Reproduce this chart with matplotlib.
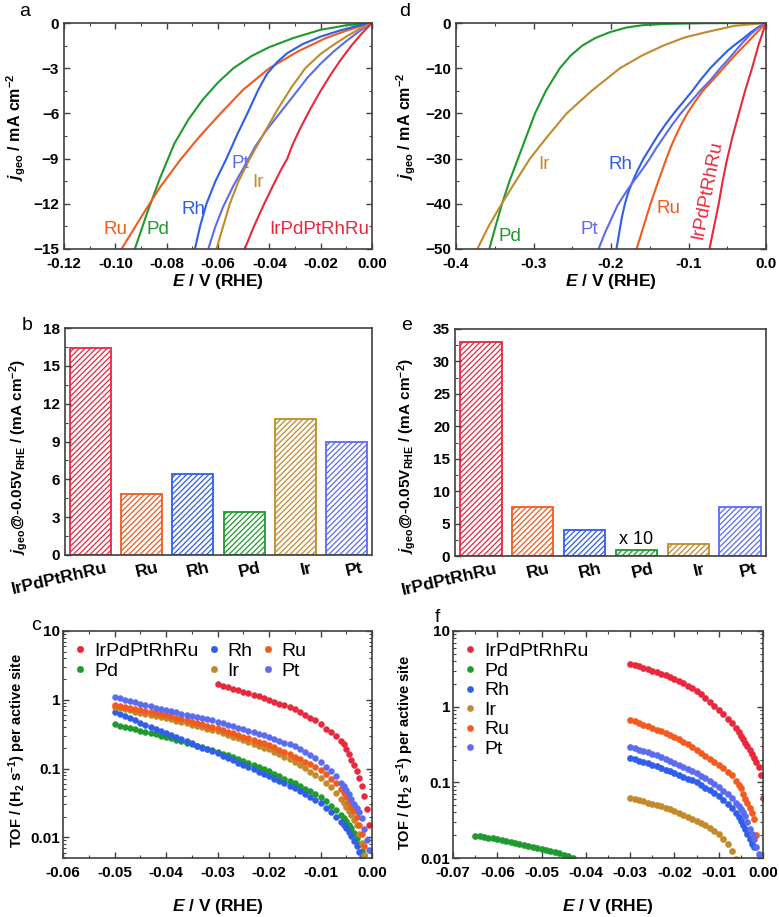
import numpy as np
import matplotlib
matplotlib.use('Agg')
import matplotlib.pyplot as plt
from matplotlib.ticker import MultipleLocator, FixedLocator, NullFormatter, LogLocator
from matplotlib.transforms import ScaledTranslation

plt.rcParams['font.family'] = ['Liberation Sans', 'DejaVu Sans']
plt.rcParams['mathtext.fontset'] = 'custom'
plt.rcParams['mathtext.rm'] = 'Liberation Sans:bold'
plt.rcParams['mathtext.it'] = 'Liberation Sans:italic:bold'
plt.rcParams['mathtext.bf'] = 'Liberation Sans:bold'
plt.rcParams['hatch.linewidth'] = 0.9

# colours
c_hea = '#e8283c'
c_ru = '#f25a1e'
c_rh = '#2f5ee8'
c_pd = '#1f9a2e'
c_ir = '#c28a2c'
c_pt = '#5b6cf0'
spine_col = '#404040'

# ---------------- panel a : LSV, small range ----------------
a_hea_E = [0, -0.004, -0.008, -0.012, -0.016, -0.020, -0.024, -0.028, -0.031, -0.033, -0.035, -0.038, -0.042, -0.046, -0.0496]
a_hea_j = [0, -0.7, -1.5, -2.4, -3.4, -4.5, -5.7, -7.0, -8.1, -9.0, -9.6, -10.6, -12.0, -13.5, -15]
a_ir_E = [0, -0.005, -0.010, -0.015, -0.020, -0.026, -0.0315, -0.037, -0.042, -0.0476, -0.052, -0.0554, -0.058, -0.0606]
a_ir_j = [0, -0.4, -0.9, -1.45, -2.05, -3.0, -4.3, -5.8, -7.3, -9.0, -10.5, -12.0, -13.5, -15]
a_pt_E = [0, -0.005, -0.010, -0.015, -0.020, -0.025, -0.030, -0.036, -0.0415, -0.0455, -0.049, -0.054, -0.058, -0.061, -0.0638]
a_pt_j = [0, -0.55, -1.2, -1.9, -2.7, -3.6, -4.7, -6.0, -7.2, -8.2, -9.3, -10.8, -12.2, -13.5, -15]
a_rh_E = [0, -0.006, -0.0125, -0.020, -0.027, -0.033, -0.037, -0.041, -0.0445, -0.048, -0.0525, -0.0567, -0.061, -0.0645, -0.067, -0.069]
a_rh_j = [0, -0.2, -0.5, -0.9, -1.4, -2.0, -2.6, -3.4, -4.5, -5.8, -7.4, -9.0, -10.5, -12.0, -13.5, -15]
a_ru_E = [0, -0.009, -0.018, -0.029, -0.040, -0.050, -0.059, -0.067, -0.0743, -0.0826, -0.090, -0.0976]
a_ru_j = [0, -0.45, -1.0, -1.9, -3.0, -4.4, -6.0, -7.5, -9.0, -10.9, -12.9, -15]
a_pd_E = [0, -0.010, -0.020, -0.0307, -0.040, -0.047, -0.054, -0.060, -0.066, -0.0715, -0.077, -0.0826, -0.0876, -0.0924]
a_pd_j = [0, -0.15, -0.45, -1.0, -1.6, -2.2, -3.0, -3.95, -5.1, -6.4, -8.0, -10.3, -12.6, -15]

# ---------------- panel d : LSV, large range ----------------
d_pd_E = [0, -0.08, -0.13, -0.16, -0.18, -0.201, -0.22, -0.237, -0.252, -0.266, -0.284, -0.298, -0.309, -0.32,
          -0.331, -0.3406, -0.349, -0.357]
d_pd_j = [0, -0.05, -0.2, -0.5, -1.0, -2.0, -3.3, -5.0, -7.2, -10, -15, -20, -25, -30, -35, -40, -45, -50]
d_ir_E = [0, -0.04, -0.0765, -0.105, -0.1325, -0.16, -0.1884, -0.225, -0.2572, -0.2815, -0.3045, -0.323, -0.341, -0.358, -0.3725]
d_ir_j = [0, -0.6, -2.0, -3.2, -5.0, -7.2, -10, -15, -20, -25, -30, -35, -40, -45, -50]
d_rh_E = [0, -0.01, -0.02, -0.03, -0.04, -0.05, -0.061, -0.072, -0.084, -0.095, -0.107, -0.119, -0.13, -0.14,
          -0.149, -0.158, -0.166, -0.172, -0.178, -0.182, -0.186, -0.189, -0.193]
d_rh_j = [0, -0.9, -2.1, -3.5, -4.8, -6.2, -8.1, -10, -12.5, -15, -17.5, -20, -22.5, -25,
          -27.5, -30, -32.7, -35, -37.6, -40, -43, -46, -50]
d_pt_E = [0, -0.01, -0.02, -0.03, -0.04, -0.05, -0.059, -0.072, -0.085, -0.098, -0.11, -0.121, -0.131, -0.141,
          -0.150, -0.158, -0.165, -0.172, -0.179, -0.186, -0.192, -0.200, -0.208, -0.216]
d_pt_j = [0, -1.0, -2.5, -4.3, -6.3, -8.3, -10, -12.7, -15, -17.6, -20, -22.5, -25, -27.5,
          -30, -32, -33.7, -35.3, -37, -38.8, -40.5, -43.5, -46.5, -50]
d_ru_E = [0, -0.014, -0.028, -0.042, -0.055, -0.068, -0.0815, -0.092, -0.1015, -0.1095, -0.1165, -0.123, -0.1285,
          -0.139, -0.149, -0.158, -0.167]
d_ru_j = [0, -2.5, -5.0, -7.5, -10, -12.5, -15, -17.5, -20, -22.5, -25, -27.5, -30, -35, -40, -45, -50]
d_hea_E = [0, -0.009, -0.018, -0.027, -0.035, -0.043, -0.050, -0.056, -0.061, -0.067, -0.073]
d_hea_j = [0, -4.5, -10, -15, -20, -25, -30, -35, -40, -45, -50]

# ---------------- panels b, e : bars ----------------
bar_names = ['IrPdPtRhRu', 'Ru', 'Rh', 'Pd', 'Ir', 'Pt']
bar_cols = [c_hea, c_ru, c_rh, c_pd, c_ir, c_pt]
b_vals = [16.4, 4.85, 6.45, 3.4, 10.8, 9.0]
e_vals = [33.0, 7.6, 4.0, 1.0, 1.8, 7.6]

# ---------------- panels c, f : TOF ----------------
# potential grid: 1 mV steps, then 0.5 mV steps close to 0 V
grid_c = np.round(np.concatenate([np.arange(-0.050, -0.0055, 0.001), np.arange(-0.0055, 0.00001, 0.0005)]), 4)
grid_f = np.round(np.concatenate([np.arange(-0.030, -0.0055, 0.001), np.arange(-0.0055, 0.00001, 0.0005)]), 4)
grid_f_pd = np.round(np.arange(-0.065, -0.0425, 0.001), 4)

c_hea_tof = [1.67, 1.59, 1.52, 1.44, 1.38, 1.31, 1.25, 1.19, 1.13, 1.06, 0.99,
             0.93, 0.88, 0.83, 0.78, 0.73, 0.67, 0.61, 0.55, 0.50, 0.44,
             0.38, 0.335, 0.295, 0.255,
             0.225, 0.19, 0.165, 0.135, 0.112, 0.093, 0.073, 0.056, 0.040, 0.026, 0.015]
c_pt_tof = [1.10, 1.05, 1.00, 0.96, 0.92, 0.88, 0.84, 0.81, 0.77, 0.74, 0.71,
            0.68, 0.655, 0.63, 0.60, 0.58, 0.56, 0.54, 0.52, 0.50, 0.48,
            0.457, 0.435, 0.413, 0.393, 0.374, 0.356, 0.338, 0.322, 0.305, 0.29,
            0.272, 0.255, 0.239, 0.224, 0.21, 0.19, 0.172, 0.155, 0.14, 0.126,
            0.107, 0.091, 0.077, 0.062,
            0.055, 0.049, 0.042, 0.036, 0.031, 0.027, 0.023, 0.019, 0.013, 0.009, 0.0066]
c_ru_tof = [0.84, 0.81, 0.78, 0.76, 0.73, 0.71, 0.68, 0.66, 0.64, 0.62, 0.60,
            0.574, 0.549, 0.525, 0.502, 0.48, 0.46, 0.44, 0.42, 0.40, 0.385,
            0.364, 0.344, 0.325, 0.307, 0.29, 0.274, 0.259, 0.245, 0.232, 0.22,
            0.203, 0.188, 0.174, 0.161, 0.149, 0.137, 0.126, 0.115, 0.105, 0.096,
            0.083, 0.071, 0.061, 0.050,
            0.044, 0.039, 0.033, 0.028, 0.024, 0.020, 0.015, 0.011, 0.0075]
c_ir_tof = [0.79, 0.76, 0.73, 0.70, 0.67, 0.65, 0.62, 0.60, 0.58, 0.56, 0.54,
            0.517, 0.495, 0.474, 0.454, 0.434, 0.416, 0.398, 0.381, 0.365, 0.35,
            0.329, 0.31, 0.291, 0.274, 0.258, 0.242, 0.228, 0.214, 0.202, 0.19,
            0.175, 0.161, 0.149, 0.137, 0.126, 0.113, 0.101, 0.090, 0.081, 0.072,
            0.062, 0.053, 0.044, 0.036,
            0.032, 0.028, 0.024, 0.021, 0.018, 0.015, 0.011, 0.0083, 0.0055]
c_pd_tof = [0.44, 0.422, 0.405, 0.388, 0.372, 0.357, 0.342, 0.328, 0.315, 0.302, 0.29,
            0.276, 0.263, 0.25, 0.238, 0.227, 0.216, 0.205, 0.195, 0.185, 0.176,
            0.165, 0.155, 0.145, 0.136, 0.128, 0.12, 0.112, 0.105, 0.098, 0.092,
            0.084, 0.077, 0.071, 0.066, 0.061, 0.056, 0.051, 0.047, 0.043, 0.039,
            0.034, 0.029, 0.025, 0.021,
            0.019, 0.017, 0.015, 0.0135, 0.0115, 0.0098, 0.008, 0.0063, 0.0055]
c_rh_tof = [0.67, 0.62, 0.58, 0.54, 0.50, 0.465, 0.435, 0.405, 0.375, 0.35, 0.325,
            0.304, 0.284, 0.265, 0.248, 0.232, 0.216, 0.202, 0.19, 0.178, 0.167,
            0.154, 0.143, 0.132, 0.122, 0.113, 0.105, 0.097, 0.09, 0.083, 0.077,
            0.071, 0.066, 0.061, 0.056, 0.052, 0.047, 0.043, 0.039, 0.035, 0.032,
            0.027, 0.023, 0.020, 0.0165,
            0.015, 0.0135, 0.012, 0.0104, 0.0088, 0.0074, 0.0062, 0.0052]

f_hea_tof = [3.68, 3.54, 3.40, 3.26, 3.13, 3.0, 2.86, 2.72, 2.59, 2.46, 2.33,
             2.18, 2.04, 1.90, 1.76, 1.63, 1.46, 1.31, 1.17, 1.03, 0.90,
             0.79, 0.69, 0.60, 0.52,
             0.46, 0.41, 0.37, 0.33, 0.30, 0.27, 0.235, 0.21, 0.185, 0.16, 0.124, 0.063]
f_ru_tof = [0.67, 0.64, 0.61, 0.58, 0.55, 0.52, 0.495, 0.47, 0.445, 0.42, 0.40,
            0.37, 0.345, 0.317, 0.292, 0.27, 0.247, 0.226, 0.206, 0.187, 0.17,
            0.153, 0.138, 0.124, 0.103,
            0.093, 0.083, 0.071, 0.060, 0.053, 0.046, 0.039, 0.033, 0.020]
f_pt_tof = [0.29, 0.28, 0.27, 0.26, 0.25, 0.24, 0.227, 0.214, 0.202, 0.19, 0.18,
            0.17, 0.16, 0.151, 0.142, 0.134, 0.123, 0.113, 0.104, 0.095, 0.086,
            0.077, 0.07, 0.063, 0.053,
            0.048, 0.044, 0.040, 0.036, 0.030, 0.024, 0.021, 0.0176, 0.014, 0.0114]
f_rh_tof = [0.21, 0.202, 0.194, 0.186, 0.178, 0.17, 0.162, 0.154, 0.147, 0.14, 0.134,
            0.126, 0.119, 0.112, 0.106, 0.10, 0.092, 0.085, 0.078, 0.072, 0.066,
            0.058, 0.052, 0.046, 0.039,
            0.035, 0.031, 0.027, 0.024, 0.0205, 0.0176, 0.0155, 0.0138]
f_ir_tof = [0.063, 0.061, 0.059, 0.056, 0.054, 0.052, 0.050, 0.048, 0.046, 0.044, 0.042,
            0.0396, 0.0372, 0.035, 0.033, 0.031, 0.029, 0.027, 0.025, 0.023, 0.021,
            0.018, 0.0155, 0.0125, 0.0098]
f_pd_tof = [0.0198, 0.0194, 0.019, 0.0186, 0.0182, 0.0178, 0.0173, 0.0168, 0.0163, 0.0158,
            0.0154, 0.015, 0.0145, 0.0141, 0.0136, 0.0132, 0.0128, 0.0124, 0.012, 0.0116,
            0.0111, 0.0106, 0.010]


def style_axes(ax):
    for s in ax.spines.values():
        s.set_color(spine_col)
        s.set_linewidth(1.2)
    ax.tick_params(which='both', direction='in', top=True, right=True, colors=spine_col,
                   labelcolor='black', labelsize=11)
    ax.tick_params(which='major', length=4, width=1)
    ax.tick_params(which='minor', length=2.5, width=0.8)
    ax.tick_params(axis='x', which='major', pad=5.5)
    for lab in ax.get_xticklabels() + ax.get_yticklabels():
        lab.set_fontweight('bold')


fig = plt.figure(figsize=(7.79, 9.17), dpi=100)
W, H = 779.0, 917.0


def add_ax(l, t, r, b):
    return fig.add_axes([l / W, 1 - b / H, (r - l) / W, (b - t) / H])


xl_E = r'$\mathit{E}$ / V (RHE)'
lab_kw = dict(fontsize=12.5, fontweight='bold')
yl_j = r'$\mathit{j}_{\mathrm{geo}}$ / mA cm$^{-2}$'

# ---- a ----
ax = add_ax(64, 23, 372, 249)
for E, j, col in [(a_pd_E, a_pd_j, c_pd), (a_ru_E, a_ru_j, c_ru), (a_rh_E, a_rh_j, c_rh),
                  (a_pt_E, a_pt_j, c_pt), (a_ir_E, a_ir_j, c_ir), (a_hea_E, a_hea_j, c_hea)]:
    ax.plot(E, j, color=col, lw=1.5)
ax.set_xlim(-0.12, 0.0)
ax.set_ylim(-15, 0)
ax.xaxis.set_major_locator(MultipleLocator(0.02))
ax.xaxis.set_minor_locator(MultipleLocator(0.01))
ax.yaxis.set_major_locator(MultipleLocator(3))
ax.yaxis.set_minor_locator(MultipleLocator(1.5))
ax.xaxis.set_major_formatter(plt.FormatStrFormatter('%.2f'))
style_axes(ax)
ax.set_xlabel(xl_E, labelpad=1, **lab_kw)
ax.set_ylabel(yl_j, fontsize=11.5, fontweight='bold')
ax.yaxis.set_label_coords(-0.117, 0.54)
for txt, x, y, col in [('Ru', -0.1001, -13.7, c_ru), ('Pd', -0.0833, -13.7, c_pd), ('Rh', -0.0697, -12.4, c_rh),
                       ('Pt', -0.0515, -9.3, c_pt), ('Ir', -0.0444, -10.6, c_ir),
                       ('IrPdPtRhRu', -0.0204, -13.7, c_hea)]:
    ax.text(x, y, txt, color=col, fontsize=13.5, ha='center', va='center')

# ---- d ----
ax = add_ax(456, 23, 766, 249)
for E, j, col in [(d_pd_E, d_pd_j, c_pd), (d_ir_E, d_ir_j, c_ir), (d_rh_E, d_rh_j, c_rh),
                  (d_pt_E, d_pt_j, c_pt), (d_ru_E, d_ru_j, c_ru), (d_hea_E, d_hea_j, c_hea)]:
    ax.plot(E, j, color=col, lw=1.5)
ax.set_xlim(-0.4, 0.0)
ax.set_ylim(-50, 0)
ax.xaxis.set_major_locator(MultipleLocator(0.1))
ax.xaxis.set_minor_locator(MultipleLocator(0.05))
ax.yaxis.set_major_locator(MultipleLocator(10))
ax.yaxis.set_minor_locator(MultipleLocator(5))
ax.xaxis.set_major_formatter(plt.FormatStrFormatter('%.1f'))
style_axes(ax)
ax.set_xlabel(xl_E, labelpad=1, **lab_kw)
ax.set_ylabel(yl_j, fontsize=11.5, fontweight='bold')
ax.yaxis.set_label_coords(-0.123, 0.545)
for txt, x, y, col, rot in [('Ir', -0.287, -31.4, c_ir, 0), ('Rh', -0.188, -31.4, c_rh, 0),
                            ('Pt', -0.228, -45.6, c_pt, 0), ('Pd', -0.330, -47.2, c_pd, 0),
                            ('Ru', -0.1256, -41.0, c_ru, 0), ('IrPdPtRhRu', -0.076, -36.9, c_hea, 79)]:
    ax.text(x, y, txt, color=col, fontsize=13.5, ha='center', va='center', rotation=rot)


# ---- b, e ----
def bar_panel(ax, vals, ymax, ystep, ylab, lx, ly):
    x = np.arange(len(vals))
    for i in x:
        ax.bar(i, vals[i], width=0.8, facecolor='white', edgecolor=bar_cols[i], hatch='//////', lw=1.3)
    ax.set_xlim(-0.5, len(vals) - 0.5)
    ax.set_ylim(0, ymax)
    ax.yaxis.set_major_locator(MultipleLocator(ystep))
    ax.yaxis.set_minor_locator(MultipleLocator(ystep / 2))
    ax.set_xticks(x)
    ax.set_xticklabels(bar_names, rotation=13, ha='right', rotation_mode='anchor')
    style_axes(ax)
    ax.tick_params(axis='x', which='both', length=0, pad=4, labelsize=12.5, top=False)
    ax.tick_params(axis='y', which='both', right=False)
    off = ScaledTranslation(15 / 100, 0, fig.dpi_scale_trans)
    for lab in ax.get_xticklabels():
        lab.set_transform(lab.get_transform() + off)
        lab.set_fontweight('bold')
    ax.set_ylabel(ylab, fontsize=11, fontweight='bold')
    ax.yaxis.set_label_coords(lx, ly)


yl_bar = r'$\mathit{j}_{\mathrm{geo}}$@-0.05V$_{\mathrm{RHE}}$ / (mA cm$^{-2}$)'
ax = add_ax(65, 328, 372, 555)
bar_panel(ax, b_vals, 18, 3, yl_bar, -0.114, 0.43)
ax = add_ax(455, 329, 766, 556)
bar_panel(ax, e_vals, 35, 5, yl_bar, -0.119, 0.44)
ax.text(3, 2.6, 'x 10', fontsize=13, ha='center', va='center')


# ---- c, f ----
def tof_panel(ax, series, ms, lx, ly):
    for E, v, col, name in series:
        ax.plot(E[:len(v)], v, 'o', ls='none', ms=ms, color=col, mec=col, mew=0.3, label=name)
    ax.set_yscale('log')
    ax.yaxis.set_major_locator(FixedLocator([0.01, 0.1, 1, 10]))
    ax.yaxis.set_minor_locator(LogLocator(base=10, subs=np.arange(2, 10)))
    ax.yaxis.set_minor_formatter(NullFormatter())
    ax.set_yticklabels(['0.01', '0.1', '1', '10'])
    ax.xaxis.set_major_locator(MultipleLocator(0.01))
    ax.xaxis.set_minor_locator(MultipleLocator(0.005))
    ax.xaxis.set_major_formatter(plt.FormatStrFormatter('%.2f'))
    style_axes(ax)
    ax.tick_params(axis='x', which='major', pad=6)
    ax.tick_params(axis='y', which='major', pad=2)
    ax.set_xlabel(xl_E, labelpad=12, **lab_kw)
    ax.set_ylabel(r'TOF / (H$_{2}$ s$^{-1}$) per active site', fontsize=10.5, fontweight='bold')
    ax.yaxis.set_label_coords(lx, ly)


ax = add_ax(63, 631, 372, 858)
tof_panel(ax, [(grid_c[20:], c_hea_tof, c_hea, 'IrPdPtRhRu'), (grid_c, c_pd_tof, c_pd, 'Pd'),
               (grid_c, c_rh_tof, c_rh, 'Rh'), (grid_c, c_ir_tof, c_ir, 'Ir'),
               (grid_c, c_ru_tof, c_ru, 'Ru'), (grid_c, c_pt_tof, c_pt, 'Pt')], 4.3, -0.113, 0.476)
ax.set_xlim(-0.06, 0.0)
ax.set_ylim(0.005, 10)
ax.legend(loc='upper left', ncol=3, frameon=False, fontsize=14, handlelength=0.6, handletextpad=0.4,
          columnspacing=0.5, labelspacing=0.1, borderaxespad=0.2, markerscale=1.1)

ax = add_ax(453, 631, 763, 858)
tof_panel(ax, [(grid_f, f_hea_tof, c_hea, 'IrPdPtRhRu'), (grid_f_pd, f_pd_tof, c_pd, 'Pd'),
               (grid_f, f_rh_tof, c_rh, 'Rh'), (grid_f, f_ir_tof, c_ir, 'Ir'),
               (grid_f, f_ru_tof, c_ru, 'Ru'), (grid_f, f_pt_tof, c_pt, 'Pt')], 4.5, -0.119, 0.467)
ax.set_xlim(-0.07, 0.0)
ax.set_ylim(0.01, 10)
ax.legend(loc='upper left', ncol=1, frameon=False, fontsize=14, handlelength=0.6, handletextpad=0.4,
          labelspacing=0.1, borderaxespad=0.2, markerscale=1.0)

# panel letters
for letter, x, y in [('a', 25, 12), ('d', 405, 12), ('b', 27, 325), ('e', 407, 325), ('c', 36, 626), ('f', 437, 617)]:
    fig.text(x / W, 1 - y / H, letter, fontsize=14, ha='center', va='center')

fig.savefig('out.png', dpi=100)
